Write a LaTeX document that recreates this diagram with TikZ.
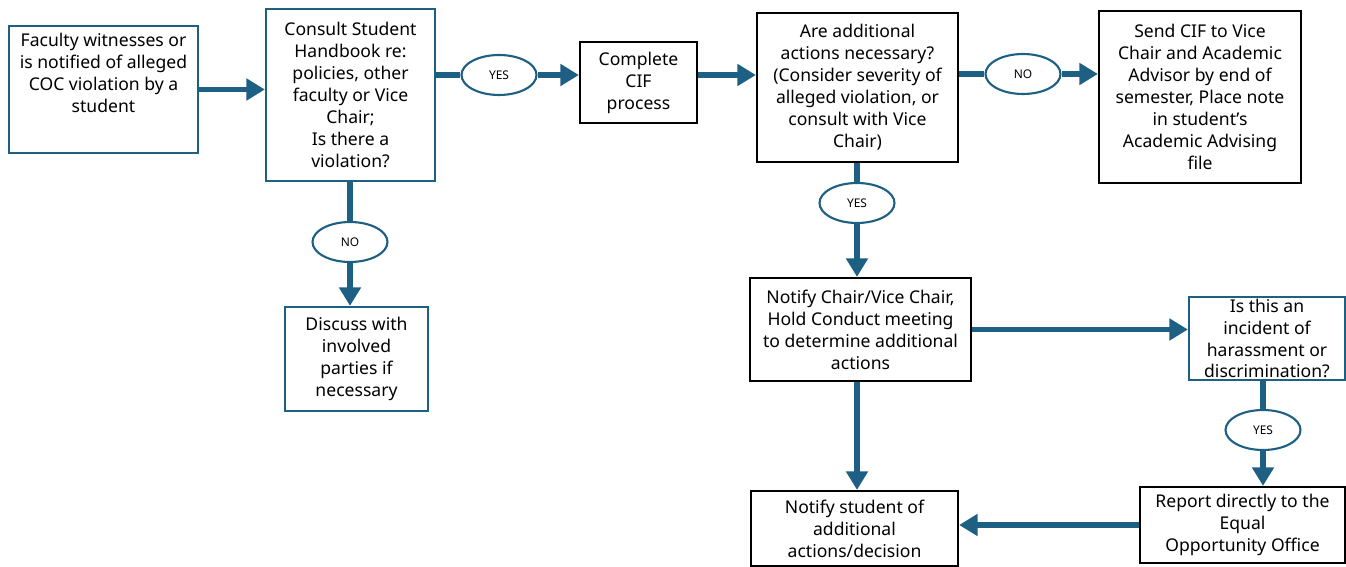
\documentclass[tikz,border=0pt]{standalone}
\usepackage{fontspec}
\setmainfont{Noto Sans}
\usetikzlibrary{arrows.meta,shapes.geometric}
\definecolor{flowblue}{RGB}{30,96,132}

\begin{document}
\begin{tikzpicture}[x=0.02cm, y=-0.02cm,
    every node/.style={font=\fontsize{10}{12.5}\selectfont, align=center, inner sep=1pt},
    bluebox/.style={draw=flowblue, line width=1.3pt},
    blackbox/.style={draw=black, line width=1.3pt},
    tag/.style={ellipse, draw=flowblue, line width=1.2pt, fill=white, minimum width=1.5cm, minimum height=0.8cm, font=\fontsize{6.8}{8}\selectfont},
    link/.style={draw=flowblue, line width=3pt},
    flow/.style={link, -{Triangle[length=10.5pt,width=12pt]}}]
    \useasboundingbox (0,0) rectangle (1346,567);

    \node[bluebox, minimum width=3.78cm, minimum height=2.54cm, inner sep=0pt] (fac) at (103.5,89.5) {\parbox[c][2.26cm][t]{3.7cm}{\centering Faculty witnesses or\\is notified of alleged\\COC violation by a\\student}};
    \node[bluebox, minimum width=3.38cm, minimum height=3.44cm] (con) at (350.5,95) {Consult Student\\Handbook re:\\policies, other\\faculty or Vice\\Chair;\\Is there a\\violation?};
    \node[bluebox, minimum width=2.86cm, minimum height=2.08cm] (dis) at (356.5,359) {Discuss with\\involved\\parties if\\necessary};
    \node[blackbox, minimum width=2.34cm, minimum height=1.62cm] (cif) at (638.5,82.5) {Complete\\CIF\\process};
    \node[blackbox, minimum width=4.02cm, minimum height=2.98cm] (add) at (857.5,87.5) {Are additional\\actions necessary?\\(Consider severity of\\alleged violation, or\\consult with Vice\\Chair)};
    \node[blackbox, minimum width=4.04cm, minimum height=3.44cm] (send) at (1200,97) {Send CIF to Vice\\Chair and Academic\\Advisor by end of\\semester, Place note\\in student’s\\Academic Advising\\file};
    \node[blackbox, minimum width=4.42cm, minimum height=2.06cm] (chair) at (860.5,329.5) {Notify Chair/Vice Chair,\\Hold Conduct meeting\\to determine additional\\actions};
    \node[bluebox, minimum width=3.12cm, minimum height=1.54cm] (inc) at (1267,338.5) {Is this an\\incident of\\harassment or\\discrimination?};
    \node[blackbox, minimum width=4.10cm, minimum height=1.52cm] (rep) at (1242.5,525) {Report directly to the\\Equal\\Opportunity Office};
    \node[blackbox, minimum width=4.14cm, minimum height=1.50cm] (stu) at (854.5,528.5) {Notify student of\\additional\\actions/decision};

    \node[tag] (yes1) at (499,75) {YES};
    \node[tag] (no1) at (1023,74) {NO};
    \node[tag] (no2) at (350,242) {NO};
    \node[tag] (yes2) at (857,203) {YES};
    \node[tag] (yes3) at (1263,430) {YES};

    \draw[flow] (fac.east) -- (fac.east -| con.west);
    \draw[link] (con.east |- yes1) -- (yes1.west);
    \draw[flow] (yes1.east) -- (yes1 -| cif.west);
    \draw[flow] (cif.east |- yes1) -- (yes1 -| add.west);
    \draw[link] (add.east |- no1) -- (no1.west);
    \draw[flow] (no1.east) -- (no1 -| send.west);
    \draw[link] (con.south -| no2) -- (no2.north);
    \draw[flow] (no2.south) -- (no2 |- dis.north);
    \draw[link] (add.south -| yes2) -- (yes2.north);
    \draw[flow] (yes2.south) -- (yes2 |- chair.north);
    \draw[flow] (chair.east) -- (chair.east -| inc.west);
    \draw[link] (inc.south -| yes3) -- (yes3.north);
    \draw[flow] (yes3.south) -- (yes3 |- rep.north);
    \draw[flow] (yes2 |- chair.south) -- (yes2 |- stu.north);
    \draw[flow] (rep.west) -- (rep.west -| stu.east);
\end{tikzpicture}
\end{document}
